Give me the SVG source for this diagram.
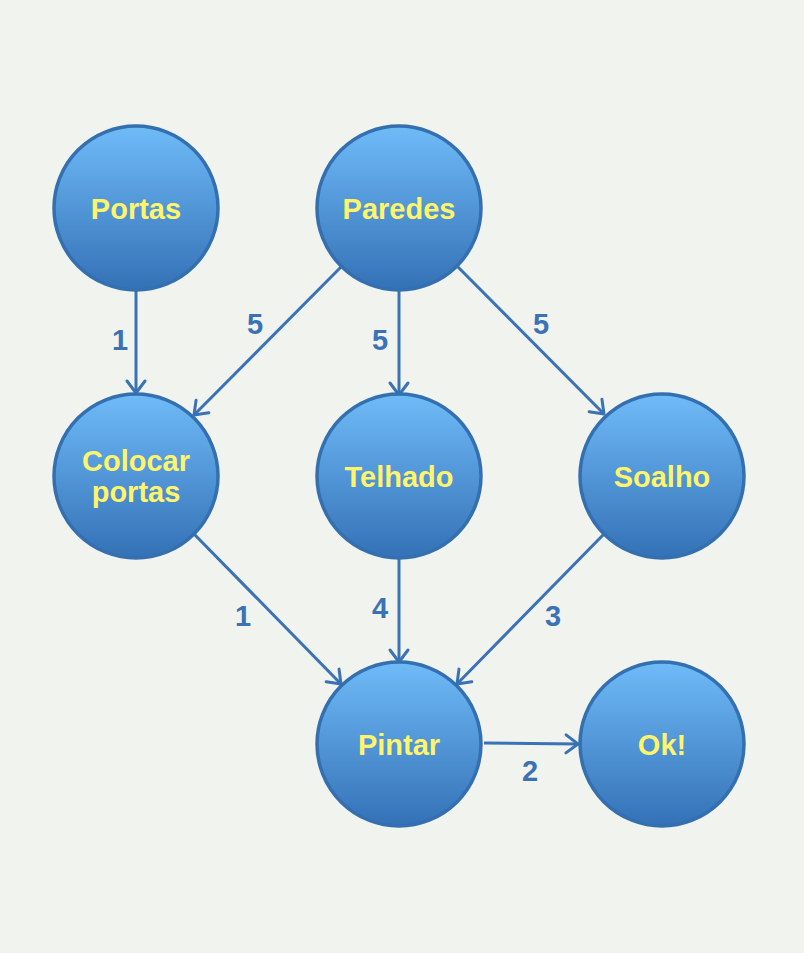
<svg xmlns="http://www.w3.org/2000/svg" width="804" height="953" viewBox="0 0 804 953">
<defs>
<linearGradient id="g" x1="0" y1="0" x2="0" y2="1">
<stop offset="0" stop-color="#6fbbf8"/>
<stop offset="1" stop-color="#3471b6"/>
</linearGradient>
<marker id="a" markerUnits="userSpaceOnUse" markerWidth="20" markerHeight="20" refX="13" refY="8" orient="auto" overflow="visible">
<path d="M1,-1 L13,8 L1,17" fill="none" stroke="#3a72b5" stroke-width="3" stroke-linecap="round" stroke-linejoin="round"/>
</marker>
<style>
.n{fill:url(#g);stroke:#3470b0;stroke-width:3.5}
.t{font-family:"Liberation Sans",Arial,sans-serif;font-weight:bold;font-size:29px;fill:#fff46a;text-anchor:middle}
.e{stroke:#3a72b5;stroke-width:3;fill:none;marker-end:url(#a)}
.l{font-family:"Liberation Sans",Arial,sans-serif;font-weight:bold;font-size:29px;fill:#3a72b5;text-anchor:middle}
</style>
</defs>
<rect width="804" height="953" fill="#f1f3ef"/>
<g id="connectors">
<line class="e" x1="136" y1="289" x2="136" y2="393"/>
<line class="e" x1="341" y1="267" x2="194" y2="415"/>
<line class="e" x1="399" y1="289" x2="399" y2="395"/>
<line class="e" x1="457" y1="266" x2="604" y2="414"/>
<line class="e" x1="194" y1="534" x2="341" y2="684"/>
<line class="e" x1="399" y1="557" x2="399" y2="662"/>
<line class="e" x1="604" y1="534" x2="457" y2="684"/>
<line class="e" x1="484" y1="743" x2="578" y2="744"/>
<text class="l" x="120" y="350">1</text>
<text class="l" x="255" y="334">5</text>
<text class="l" x="380" y="350">5</text>
<text class="l" x="541" y="334">5</text>
<text class="l" x="243" y="626">1</text>
<text class="l" x="380" y="618">4</text>
<text class="l" x="553" y="626">3</text>
<text class="l" x="530" y="781">2</text>
</g>
<g id="portas"><circle class="n" cx="136" cy="208" r="82"/><text class="t" x="136" y="219">Portas</text></g>
<g id="paredes"><circle class="n" cx="399" cy="208" r="82"/><text class="t" x="399" y="219">Paredes</text></g>
<g id="colocar"><circle class="n" cx="136" cy="476" r="82"/><text class="t" x="136" y="471">Colocar</text><text class="t" x="136" y="502">portas</text></g>
<g id="telhado"><circle class="n" cx="399" cy="476" r="82"/><text class="t" x="399" y="487">Telhado</text></g>
<g id="soalho"><circle class="n" cx="662" cy="476" r="82"/><text class="t" x="662" y="487">Soalho</text></g>
<g id="pintar"><circle class="n" cx="399" cy="744" r="82"/><text class="t" x="399" y="755">Pintar</text></g>
<g id="ok"><circle class="n" cx="662" cy="744" r="82"/><text class="t" x="662" y="755">Ok!</text></g>
</svg>
